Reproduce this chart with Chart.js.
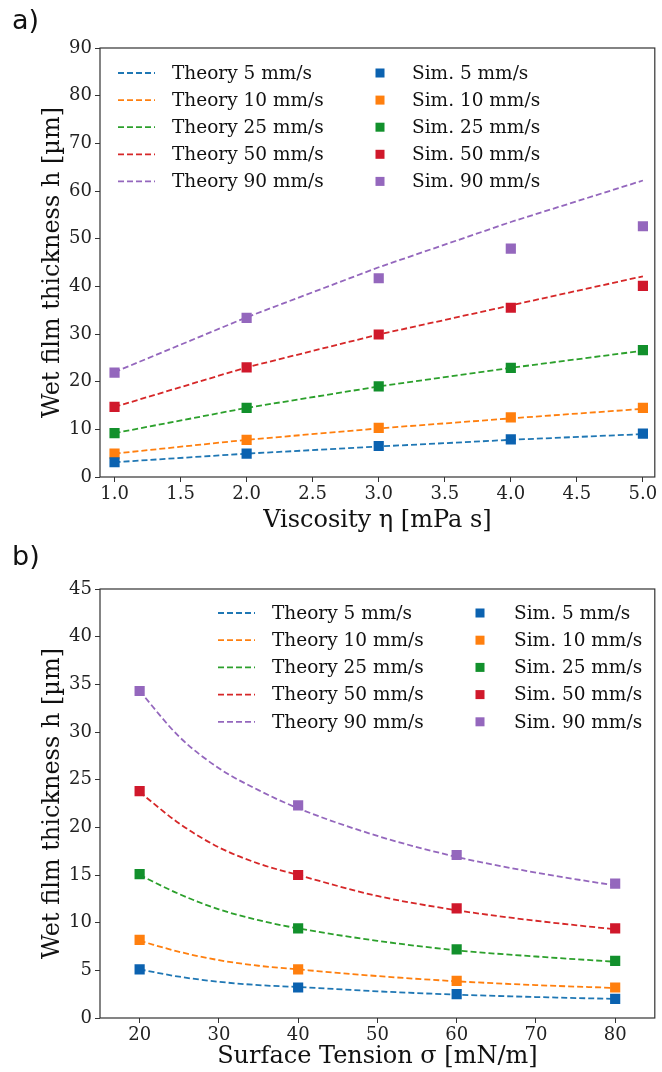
<!DOCTYPE html>
<html>
<head>
<meta charset="utf-8">
<script src="https://cdn.jsdelivr.net/npm/chart.js@4/dist/chart.umd.min.js"></script>
<style>
  body { margin: 0; background: #fff; }
  #wrap { position: relative; width: 662px; height: 1072px; }
  .box { position: absolute; left: 0; width: 662px; height: 536px; }
  .tag { position: absolute; left: 12px; font: 27px "DejaVu Sans", sans-serif; color: #111; }
</style>
</head>
<body>
<div id="wrap">
  <div class="box" style="top:0"><canvas id="chartA" width="662" height="536"></canvas></div>
  <div class="box" style="top:536px"><canvas id="chartB" width="662" height="536"></canvas></div>
  <div class="tag" style="top:4px">a)</div>
  <div class="tag" style="top:540px">b)</div>
</div>
<script>
// Speeds (legend names)
const speeds = ["5 mm/s", "10 mm/s", "25 mm/s", "50 mm/s", "90 mm/s"];
const lineColors = ["#1f77b4", "#ff7f0e", "#2ca02c", "#d62728", "#9467bd"];
const markColors = ["#0b62b0", "#ff7f0e", "#12902c", "#d0182b", "#9467bd"];

// a) Viscosity
const viscX = [1, 2, 3, 4, 5];
const viscTicks = [1.0, 1.5, 2.0, 2.5, 3.0, 3.5, 4.0, 4.5, 5.0];
const viscTheory = [
  [3.1, 4.9, 6.4, 7.8, 9.0],
  [4.9, 7.8, 10.2, 12.3, 14.3],
  [9.2, 14.5, 19.0, 22.9, 26.5],
  [14.7, 23.0, 29.9, 36.0, 42.1],
  [22.0, 33.5, 44.0, 53.5, 62.2]
];
const viscSim = [
  [3.1, 4.9, 6.5, 7.9, 9.1],
  [4.9, 7.8, 10.3, 12.5, 14.5],
  [9.2, 14.5, 19.0, 22.9, 26.6],
  [14.7, 23.0, 29.9, 35.5, 40.1],
  [21.9, 33.4, 41.7, 47.9, 52.6]
];

// b) Surface tension
const tensX = [20, 40, 60, 80];
const tensTheoryX = [20, 25, 30, 35, 40, 50, 60, 70, 80];
const tensTicks = [20, 30, 40, 50, 60, 70, 80];
const tensTheory = [
  [5.1, 4.33, 3.8, 3.45, 3.25, 2.8, 2.45, 2.2, 2.0],
  [8.1, 6.94, 6.07, 5.48, 5.1, 4.4, 3.85, 3.45, 3.15],
  [15.0, 13.0, 11.4, 10.26, 9.4, 8.1, 7.1, 6.45, 5.9],
  [23.7, 20.4, 17.9, 16.2, 15.0, 12.8, 11.3, 10.2, 9.3],
  [34.3, 29.5, 26.2, 23.9, 22.0, 19.1, 16.9, 15.25, 13.9]
];
const tensSim = [
  [5.1, 3.2, 2.5, 2.0],
  [8.2, 5.1, 3.9, 3.2],
  [15.1, 9.4, 7.2, 6.0],
  [23.8, 15.0, 11.5, 9.4],
  [34.3, 22.3, 17.1, 14.1]
];

const serif = "'DejaVu Serif', serif";

function buildDatasets(theoryX, theory, simX, sim, smooth) {
  const sets = [];
  theory.forEach((ys, i) => {
    sets.push({
      label: "Theory " + speeds[i],
      data: ys.map((y, k) => ({ x: theoryX[k], y: y })),
      borderColor: lineColors[i],
      borderWidth: 1.8,
      borderDash: [6, 3],
      pointRadius: 0,
      fill: false,
      cubicInterpolationMode: smooth ? "monotone" : "default",
      tension: 0,
      order: 1
    });
  });
  sim.forEach((ys, i) => {
    sets.push({
      label: "Sim. " + speeds[i],
      data: ys.map((y, k) => ({ x: simX[k], y: y })),
      showLine: false,
      pointStyle: "rect",
      pointRadius: 7.2,
      pointBackgroundColor: markColors[i],
      pointBorderColor: markColors[i],
      pointBorderWidth: 0,
      order: 0
    });
  });
  return sets;
}

// frame around the plot + two-column legend
const framePlugin = {
  id: "frame",
  afterDraw(chart) {
    const a = chart.chartArea, ctx = chart.ctx;
    ctx.save();
    ctx.strokeStyle = "#333";
    ctx.lineWidth = 1.2;
    ctx.strokeRect(a.left, a.top, a.right - a.left, a.bottom - a.top);
    ctx.restore();
  }
};

const legendPlugin = {
  id: "twoColLegend",
  afterDraw(chart, args, o) {
    const ctx = chart.ctx;
    const sets = chart.data.datasets;
    ctx.save();
    ctx.font = "18.5px " + serif;
    ctx.textBaseline = "middle";
    for (let i = 0; i < 5; i++) {
      const y = o.y0 + i * o.dy;
      // theory line sample
      ctx.strokeStyle = sets[i].borderColor;
      ctx.lineWidth = 1.8;
      ctx.setLineDash([6, 3]);
      ctx.beginPath();
      ctx.moveTo(o.lineX, y);
      ctx.lineTo(o.lineX + 37, y);
      ctx.stroke();
      ctx.setLineDash([]);
      ctx.fillStyle = "#111";
      ctx.fillText(sets[i].label, o.textX, y + 1);
      // sim marker
      ctx.fillStyle = sets[i + 5].pointBackgroundColor;
      ctx.fillRect(o.markX - 4.5, y - 4.5, 9, 9);
      ctx.fillStyle = "#111";
      ctx.fillText(sets[i + 5].label, o.text2X, y + 1);
    }
    ctx.restore();
  }
};

function makeChart(id, cfg) {
  return new Chart(document.getElementById(id), {
    type: "line",
    data: { datasets: cfg.datasets },
    plugins: [framePlugin, legendPlugin],
    options: {
      responsive: false,
      animation: false,
      layout: { padding: { top: cfg.top, right: 3, left: 0, bottom: 0 } },
      plugins: {
        legend: { display: false },
        tooltip: { enabled: false },
        twoColLegend: cfg.legend
      },
      scales: {
        x: {
          type: "linear",
          min: cfg.xmin,
          max: cfg.xmax,
          afterFit: (s) => { s.height = cfg.xh; },
          afterBuildTicks: (s) => { s.ticks = cfg.xticks.map(v => ({ value: v })); },
          ticks: {
            color: "#222",
            font: { family: serif, size: 18 },
            padding: 2,
            maxRotation: 0,
            autoSkip: false,
            callback: cfg.xfmt
          },
          grid: { display: true, drawOnChartArea: false, drawTicks: true, tickLength: 5, color: "#333" },
          border: { display: false },
          title: {
            display: true,
            text: cfg.xtitle,
            color: "#111",
            font: { family: serif, size: 24 },
            padding: { top: 0, bottom: 1 }
          }
        },
        y: {
          min: 0,
          max: cfg.ymax,
          afterFit: (s) => { s.width = 100; },
          ticks: {
            stepSize: cfg.ystep,
            color: "#222",
            font: { family: serif, size: 18 },
            padding: 3
          },
          grid: { display: true, drawOnChartArea: false, drawTicks: true, tickLength: 5, color: "#333" },
          border: { display: false },
          title: {
            display: true,
            text: "Wet film thickness h [µm]",
            color: "#111",
            font: { family: serif, size: 24 },
            padding: { top: 38, bottom: 0 }
          }
        }
      }
    }
  });
}

makeChart("chartA", {
  datasets: buildDatasets(viscX, viscTheory, viscX, viscSim, false),
  top: 48, xh: 59, xmin: 0.89, xmax: 5.09, ymax: 90, ystep: 10,
  xticks: viscTicks, xfmt: (v) => Number(v).toFixed(1),
  xtitle: "Viscosity η [mPa s]",
  legend: { y0: 73, dy: 27.1, lineX: 118, textX: 172, markX: 380, text2X: 412 }
});

makeChart("chartB", {
  datasets: buildDatasets(tensTheoryX, tensTheory, tensX, tensSim, true),
  top: 53, xh: 54, xmin: 15, xmax: 85, ymax: 45, ystep: 5,
  xticks: tensTicks, xfmt: (v) => String(v),
  xtitle: "Surface Tension σ [mN/m]",
  legend: { y0: 77, dy: 27.2, lineX: 218, textX: 272, markX: 480, text2X: 514 }
});
</script>
</body>
</html>
